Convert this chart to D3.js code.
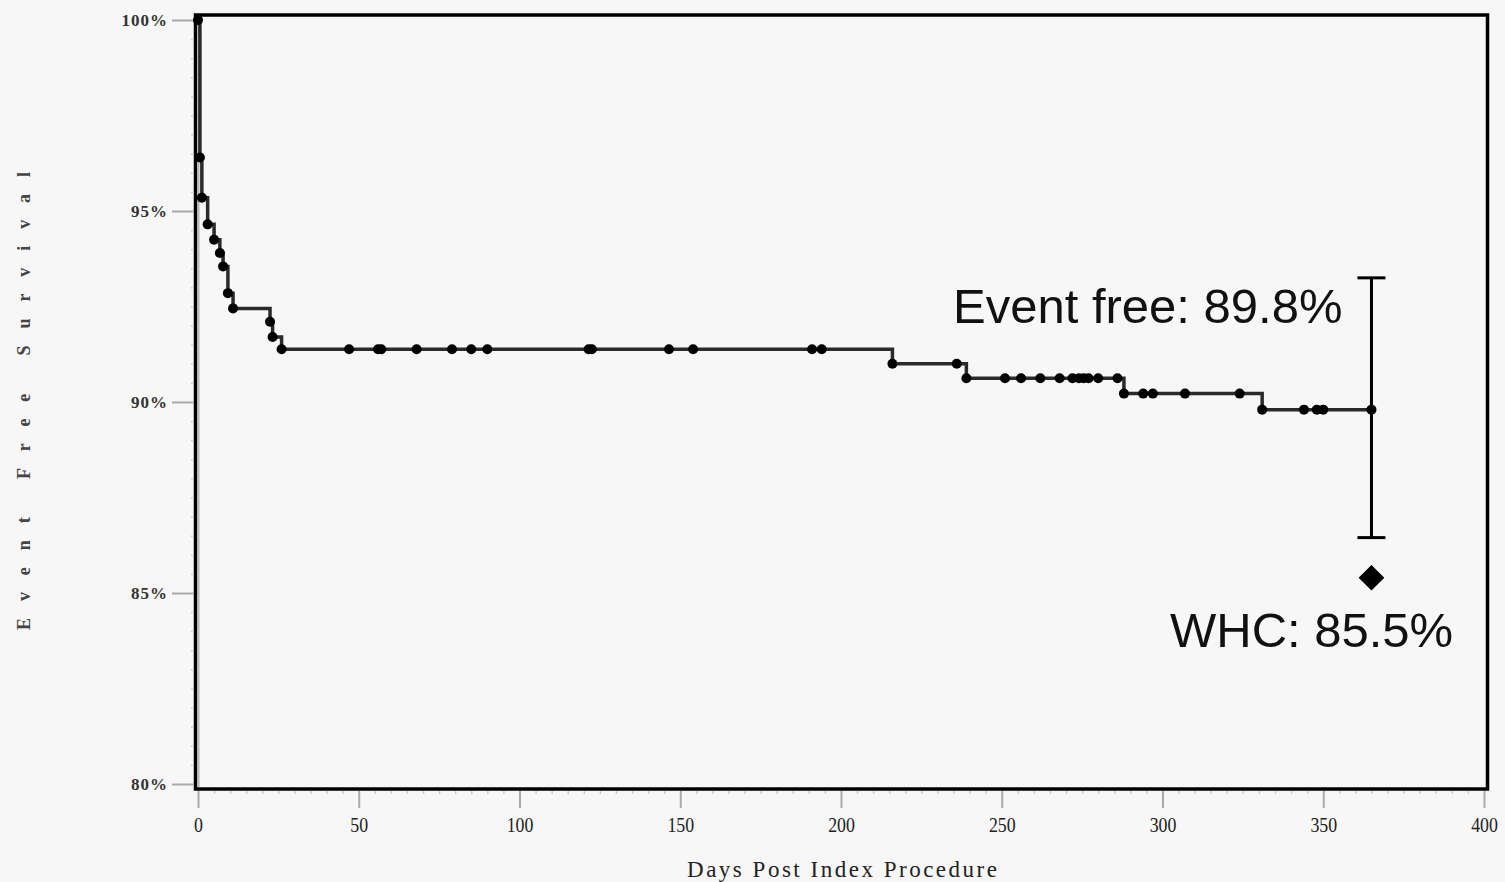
<!DOCTYPE html>
<html lang="en">
  <head>
    <meta charset="UTF-8" />
    <title>Event Free Survival</title>
    <style>
      body {
        margin: 0;
        background: #f7f7f7;
      }
    </style>
  </head>
  <body>
    <script src="https://d3js.org/d3.v7.min.js"></script>
    <script>

// Kaplan-Meier steps: day of event, survival after it (%)
var stepDays = [0, 0.6, 1.2, 3, 5, 6.8, 7.8, 9.3, 10.9, 22.4, 23.2, 26, 216, 239, 288, 331];
var stepSurvival = [100, 96.4, 95.35, 94.65, 94.25, 93.9, 93.55, 92.85, 92.45, 92.1, 91.7, 91.38, 91.0, 90.62, 90.22, 89.8];
var lastDay = 365;

// days where a dot sits on the curve
var markerDays = [0, 0.6, 1.2, 3, 5, 6.8, 7.8, 9.3, 10.9, 22.4, 23.2, 26, 47, 56, 57, 68, 79, 85, 90,
  121.5, 122.5, 146.5, 154, 191, 194, 216, 236, 239, 251, 256, 262, 268, 272, 274, 275.5, 277, 280,
  286, 288, 294, 297, 307, 324, 331, 344, 348, 350, 365];

// one year estimate with its interval, and the WHC goal
var ciDay = 365, ciLow = 86.45, ciHigh = 93.25;
var whcDay = 365, whcMark = 85.4;
var eventLabel = "Event free: 89.8%";
var whcLabel = "WHC: 85.5%";

var yTicks = [80, 85, 90, 95, 100];
var xTicks = [0, 50, 100, 150, 200, 250, 300, 350, 400];

var width = 1505, height = 882;

var svg = d3.select("body").append("svg")
  .attr("width", width)
  .attr("height", height)
  .style("background", "#f7f7f7");

var x = d3.scaleLinear().domain([0, 400]).range([198, 1484]);
var y = d3.scaleLinear().domain([80, 100]).range([784, 20]);

// frame
svg.append("rect")
  .attr("x", 195.5).attr("y", 15)
  .attr("width", 1292).attr("height", 774)
  .attr("fill", "none")
  .attr("stroke", "#000")
  .attr("stroke-width", 3.5);
svg.append("line")
  .attr("x1", 198.5).attr("x2", 198.5)
  .attr("y1", 17).attr("y2", 787)
  .attr("stroke", "#b5b5b5").attr("stroke-width", 2);

// y axis
var yAxis = svg.append("g")
  .attr("transform", "translate(194,0)")
  .call(d3.axisLeft(y).tickValues(yTicks).tickFormat(function(d){ return d + "%"; })
    .tickSize(22).tickPadding(4));
var yMinor = svg.append("g")
  .attr("transform", "translate(194,0)")
  .call(d3.axisLeft(y).tickValues(d3.range(80.5, 100, 0.5).filter(function(d){ return d % 5 != 0; }))
    .tickFormat("").tickSize(3));

// x axis
var xAxis = svg.append("g")
  .attr("transform", "translate(0,791)")
  .call(d3.axisBottom(x).tickValues(xTicks).tickSize(17).tickPadding(9));
var xMinor = svg.append("g")
  .attr("transform", "translate(0,791)")
  .call(d3.axisBottom(x).tickValues(d3.range(5, 400, 5).filter(function(d){ return d % 50 != 0; }))
    .tickFormat("").tickSize(3));

svg.selectAll(".domain").remove();
svg.selectAll(".tick line").attr("stroke", "#aaa").attr("stroke-width", 2);
yMinor.selectAll(".tick line").attr("stroke", "#ccc").attr("stroke-width", 1.5);
xMinor.selectAll(".tick line").attr("stroke", "#ccc").attr("stroke-width", 1.5);

yAxis.selectAll("text")
  .attr("font-family", "'Liberation Serif', serif")
  .attr("font-size", 17)
  .attr("font-weight", "bold")
  .attr("letter-spacing", 1)
  .attr("fill", "#333");
xAxis.selectAll("text")
  .attr("font-family", "'Liberation Serif', serif")
  .attr("font-size", 21)
  .attr("fill", "#222")
  .attr("transform", "scale(0.85,1)");

// axis titles
svg.append("text")
  .attr("transform", "translate(30,401) rotate(-90)")
  .attr("text-anchor", "middle")
  .attr("font-family", "'Liberation Serif', serif")
  .attr("font-size", 18)
  .attr("font-weight", "bold")
  .attr("fill", "#444")
  .attr("textLength", 458)
  .attr("lengthAdjust", "spacing")
  .text("Event Free Survival");

svg.append("text")
  .attr("x", 842).attr("y", 877)
  .attr("text-anchor", "middle")
  .attr("font-family", "'Liberation Serif', serif")
  .attr("font-size", 23)
  .attr("fill", "#222")
  .attr("textLength", 310)
  .attr("lengthAdjust", "spacing")
  .text("Days Post Index Procedure");

// survival curve
var curvePoints = stepDays.map(function(d, i){ return [d, stepSurvival[i]]; });
curvePoints.push([lastDay, stepSurvival[stepSurvival.length - 1]]);

var line = d3.line()
  .x(function(d){ return x(d[0]); })
  .y(function(d){ return y(d[1]); })
  .curve(d3.curveStepAfter);

svg.append("path")
  .datum(curvePoints)
  .attr("d", line)
  .attr("fill", "none")
  .attr("stroke", "#2a2a2a")
  .attr("stroke-width", 3.5);

function survivalAt(day) {
  var s = stepSurvival[0];
  for (var i = 0; i < stepDays.length; i++) {
    if (stepDays[i] <= day) s = stepSurvival[i];
  }
  return s;
}

svg.append("g").selectAll("circle")
  .data(markerDays)
  .enter()
  .append("circle")
  .attr("cx", function(d){ return x(d); })
  .attr("cy", function(d){ return y(survivalAt(d)); })
  .attr("r", 5)
  .attr("fill", "#000");

// interval bar
var bar = svg.append("g").attr("stroke", "#000").attr("stroke-width", 3);
bar.append("line")
  .attr("x1", x(ciDay)).attr("x2", x(ciDay))
  .attr("y1", y(ciHigh)).attr("y2", y(ciLow));
[ciLow, ciHigh].forEach(function(v){
  bar.append("line")
    .attr("x1", x(ciDay) - 14).attr("x2", x(ciDay) + 14)
    .attr("y1", y(v)).attr("y2", y(v));
});

// WHC goal
svg.append("path")
  .attr("d", d3.symbol().type(d3.symbolDiamond2).size(420)())
  .attr("transform", "translate(" + x(whcDay) + "," + y(whcMark) + ")")
  .attr("fill", "#000");

svg.append("text")
  .attr("x", 953).attr("y", 323)
  .attr("font-family", "'Liberation Sans', Arial, sans-serif")
  .attr("font-size", 49)
  .attr("fill", "#111")
  .text(eventLabel);

svg.append("text")
  .attr("x", 1170).attr("y", 647)
  .attr("font-family", "'Liberation Sans', Arial, sans-serif")
  .attr("font-size", 49)
  .attr("fill", "#111")
  .text(whcLabel);

    </script>
  </body>
</html>
